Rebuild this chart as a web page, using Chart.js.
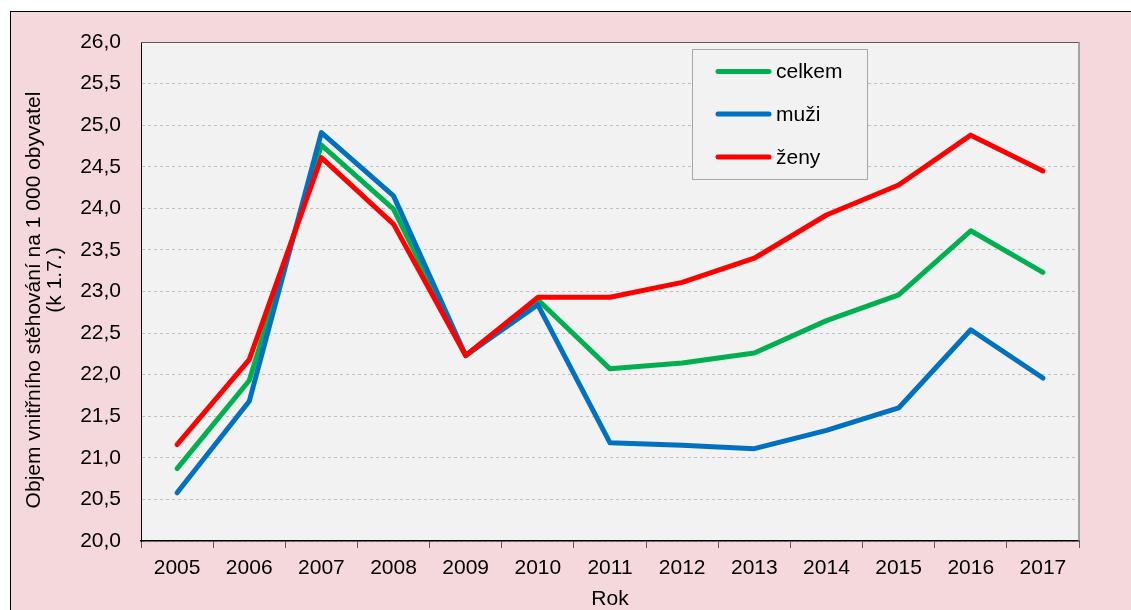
<!DOCTYPE html>
<html>
<head>
<meta charset="utf-8">
<script src="https://cdn.jsdelivr.net/npm/chart.js@4/dist/chart.umd.min.js"></script>
<style>
  html, body { margin: 0; padding: 0; background: #ffffff; width: 1131px; height: 610px; overflow: hidden; }
  #frame { position: absolute; left: 10px; top: 11px; width: 1300px; height: 800px; background: #F4D8DB; border: 1px solid #000; }
  #wrap { position: absolute; left: 0; top: 0; width: 1131px; height: 610px; }
</style>
</head>
<body>
<div id="frame"></div>
<div id="wrap"><canvas id="c" width="1131" height="610"></canvas></div>
<script>
const years = ['2005','2006','2007','2008','2009','2010','2011','2012','2013','2014','2015','2016','2017'];
const celkem = [20.87, 21.93, 24.76, 23.99, 22.23, 22.90, 22.07, 22.14, 22.26, 22.65, 22.96, 23.73, 23.23];
const muzi   = [20.58, 21.68, 24.91, 24.15, 22.23, 22.84, 21.18, 21.15, 21.11, 21.33, 21.60, 22.54, 21.96];
const zeny   = [21.16, 22.18, 24.61, 23.81, 22.23, 22.93, 22.93, 23.11, 23.40, 23.92, 24.28, 24.88, 24.45];
const seriesNames = ['celkem', 'muži', 'ženy'];
const yTitleLines = ['Objem vnitřního stěhování na 1 000 obyvatel', '(k 1.7.)'];
const xTitle = 'Rok';

const FONT = "'Liberation Sans', Arial, sans-serif";
Chart.defaults.font.family = FONT;
Chart.defaults.font.size = 21;
Chart.defaults.color = '#000';

const bgPlugin = {
  id: 'bgPlugin',
  beforeDraw(chart) {
    const {ctx, chartArea: a} = chart;
    ctx.save();
    ctx.fillStyle = '#F2F2F2';
    ctx.fillRect(a.left, a.top, a.right - a.left, a.bottom - a.top);
    ctx.restore();
  },
  afterDraw(chart) {
    const {ctx, chartArea: a} = chart;
    ctx.save();
    // top and right plot border
    ctx.strokeStyle = '#595959';
    ctx.lineWidth = 1;
    ctx.beginPath();
    ctx.moveTo(a.left, a.top + 0.5);
    ctx.lineTo(a.right, a.top + 0.5);
    ctx.stroke();
    ctx.strokeStyle = '#8C8C8C';
    ctx.lineWidth = 1.5;
    ctx.beginPath();
    ctx.moveTo(a.right, a.top);
    ctx.lineTo(a.right, a.bottom);
    ctx.stroke();

    // y axis title (two lines)
    ctx.fillStyle = '#000';
    ctx.font = '21px ' + FONT;
    ctx.textAlign = 'center';
    ctx.textBaseline = 'middle';
    ctx.save();
    ctx.translate(34, 300);
    ctx.rotate(-Math.PI / 2);
    ctx.fillText(yTitleLines[0], 0, 0);
    ctx.restore();
    ctx.save();
    ctx.translate(55, 280);
    ctx.rotate(-Math.PI / 2);
    ctx.fillText(yTitleLines[1], 0, 0);
    ctx.restore();

    // legend box
    const bx = 692, by = 49, bw = 175, bh = 130;
    ctx.fillStyle = '#F2F2F2';
    ctx.fillRect(bx, by, bw, bh);
    ctx.strokeStyle = '#A6A6A6';
    ctx.lineWidth = 1;
    ctx.strokeRect(bx + 0.5, by + 0.5, bw, bh);
    const rows = [71.5, 114, 157];
    chart.data.datasets.forEach((ds, i) => {
      const y = rows[i];
      ctx.strokeStyle = ds.borderColor;
      ctx.lineWidth = 5;
      ctx.lineCap = 'round';
      ctx.beginPath();
      ctx.moveTo(718, y);
      ctx.lineTo(769, y);
      ctx.stroke();
      ctx.fillStyle = '#000';
      ctx.textAlign = 'left';
      ctx.textBaseline = 'middle';
      ctx.fillText(ds.label, 776, y + 1);
    });
    ctx.restore();
  }
};

new Chart(document.getElementById('c'), {
  type: 'line',
  data: {
    labels: years,
    datasets: [
      { label: seriesNames[0], data: celkem, borderColor: '#00B050', order: 3 },
      { label: seriesNames[1], data: muzi, borderColor: '#0070C0', order: 2 },
      { label: seriesNames[2], data: zeny, borderColor: '#FF0000', order: 1 }
    ].map(d => Object.assign(d, {
      borderWidth: 5, pointRadius: 0, pointHoverRadius: 0, tension: 0, fill: false,
      borderCapStyle: 'round', borderJoinStyle: 'round'
    }))
  },
  options: {
    responsive: false,
    animation: false,
    devicePixelRatio: 1,
    layout: { padding: { left: 0, top: 42, right: 52, bottom: 0 } },
    plugins: { legend: { display: false }, tooltip: { enabled: false } },
    scales: {
      x: {
        offset: true,
        grid: { display: true, offset: true, drawOnChartArea: false, drawTicks: true, tickLength: 7, color: '#595959' },
        border: { display: true, color: '#000', width: 1.5 },
        ticks: { padding: 8, font: { size: 21 }, color: '#000', maxRotation: 0, autoSkip: false },
        title: { display: true, text: xTitle, font: { size: 21 }, color: '#000', padding: { top: 0, bottom: -2 } },
        afterFit(scale) { scale.height = 69; }
      },
      y: {
        min: 20, max: 26,
        ticks: {
          stepSize: 0.5, padding: 20, color: '#000', font: { size: 21 },
          callback: v => Number(v).toFixed(1).replace('.', ',')
        },
        grid: { color: '#BFBFBF', lineWidth: 1, drawTicks: false },
        border: { display: true, color: '#000', width: 1, dash: [3, 3] },
        afterFit(scale) { scale.width = 141; }
      }
    }
  },
  plugins: [bgPlugin]
});
</script>
</body>
</html>
